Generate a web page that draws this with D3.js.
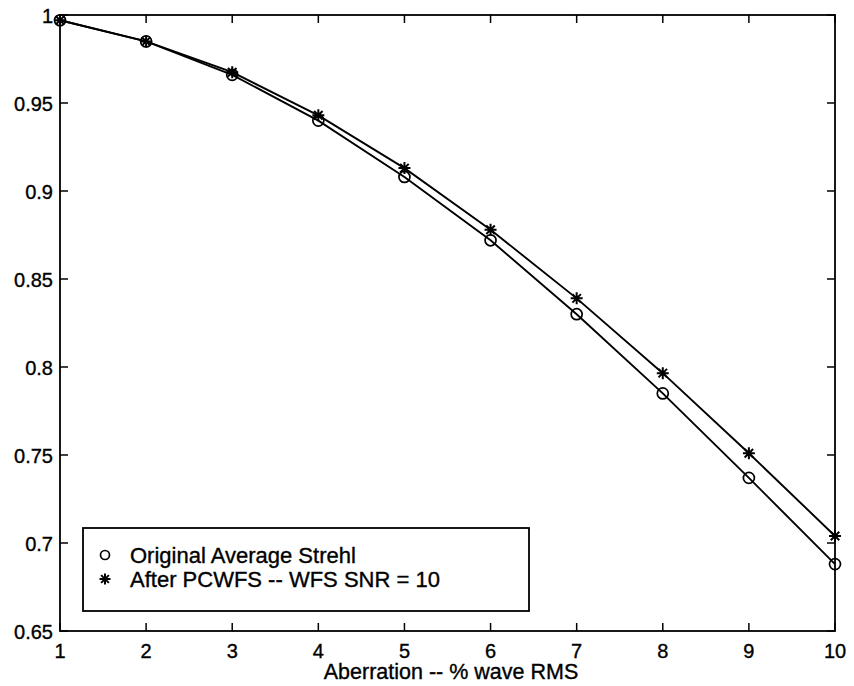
<!DOCTYPE html>
<html>
<head>
<meta charset="utf-8">
<script src="https://cdn.jsdelivr.net/npm/d3@7"></script>
<style>
  body { margin: 0; background: #fff; }
  text { font-family: "Liberation Sans", Arial, Helvetica, sans-serif; fill: #000; stroke: #000; stroke-width: 0.35px; }
</style>
</head>
<body>
<svg id="chart" width="854" height="686"></svg>
<script>
// values
const aberration = [1, 2, 3, 4, 5, 6, 7, 8, 9, 10];
const originalStrehl = [0.997, 0.985, 0.966, 0.940, 0.908, 0.872, 0.830, 0.785, 0.737, 0.688];
const afterPCWFS = [0.997, 0.985, 0.9675, 0.943, 0.913, 0.878, 0.839, 0.7965, 0.751, 0.704];
const xTicks = [1, 2, 3, 4, 5, 6, 7, 8, 9, 10];
const yTicks = [0.65, 0.7, 0.75, 0.8, 0.85, 0.9, 0.95, 1];
const legendLabels = ["Original Average Strehl", "After PCWFS -- WFS SNR = 10"];

const svg = d3.select("#chart");
const plotL = 60, plotR = 835, plotT = 15, plotB = 631;

let x = d3.scaleLinear().domain([1, 10]).range([plotL, plotR]);
let y = d3.scaleLinear().domain([0.65, 1]).range([plotB, plotT]);

// frame
svg.append("rect")
    .attr("x", plotL).attr("y", plotT)
    .attr("width", plotR - plotL).attr("height", plotB - plotT)
    .attr("fill", "none").attr("stroke", "#000").attr("stroke-width", 1.8);

// ticks, inward on all four sides
let tickLen = 8;
let g = svg.append("g").attr("stroke", "#000").attr("stroke-width", 1.5);
xTicks.forEach(t => {
    g.append("line").attr("x1", x(t)).attr("x2", x(t)).attr("y1", plotB).attr("y2", plotB - tickLen);
    g.append("line").attr("x1", x(t)).attr("x2", x(t)).attr("y1", plotT).attr("y2", plotT + tickLen);
});
yTicks.forEach(t => {
    g.append("line").attr("x1", plotL).attr("x2", plotL + tickLen).attr("y1", y(t)).attr("y2", y(t));
    g.append("line").attr("x1", plotR).attr("x2", plotR - tickLen).attr("y1", y(t)).attr("y2", y(t));
});

svg.selectAll(".xt").data(xTicks).enter().append("text")
    .attr("x", d => x(d)).attr("y", plotB + 27)
    .attr("text-anchor", "middle").style("font-size", "20px")
    .text(d => d);

svg.selectAll(".yt").data(yTicks).enter().append("text")
    .attr("x", plotL - 7).attr("y", d => y(d) + 8)
    .attr("text-anchor", "end").style("font-size", "20px")
    .text(d => d3.format("")(d));

svg.append("text")
    .attr("x", 451).attr("y", 679)
    .attr("text-anchor", "middle").style("font-size", "21.5px")
    .text("Aberration -- % wave RMS");

// lines
let line = d3.line().x((d, i) => x(aberration[i])).y(d => y(d));
[originalStrehl, afterPCWFS].forEach(s => {
    svg.append("path").datum(s).attr("d", line)
        .attr("fill", "none").attr("stroke", "#000").attr("stroke-width", 1.9);
});

function circleMark(sel, cx, cy, r) {
    sel.append("circle").attr("cx", cx).attr("cy", cy).attr("r", r)
        .attr("fill", "none").attr("stroke", "#000").attr("stroke-width", 1.7);
}
function starMark(sel, cx, cy, r) {
    let p = "";
    [0, 45, 90, 135].forEach(a => {
        let dx = r * Math.cos(a * Math.PI / 180), dy = r * Math.sin(a * Math.PI / 180);
        p += `M${cx - dx},${cy - dy}L${cx + dx},${cy + dy}`;
    });
    sel.append("path").attr("d", p).attr("stroke", "#000").attr("stroke-width", 2).attr("fill", "none");
}

originalStrehl.forEach((v, i) => circleMark(svg, x(aberration[i]), y(v), 5.5));
afterPCWFS.forEach((v, i) => starMark(svg, x(aberration[i]), y(v), 6));

// legend
svg.append("rect")
    .attr("x", 83).attr("y", 528).attr("width", 446).attr("height", 83)
    .attr("fill", "#fff").attr("stroke", "#000").attr("stroke-width", 1.8);
let rows = [555, 579];
circleMark(svg, 105, rows[0], 4.5);
starMark(svg, 105, rows[1], 5.5);
legendLabels.forEach((l, i) => {
    svg.append("text").attr("x", 130).attr("y", rows[i] + 8)
        .style("font-size", "22px").text(l);
});
</script>
</body>
</html>
